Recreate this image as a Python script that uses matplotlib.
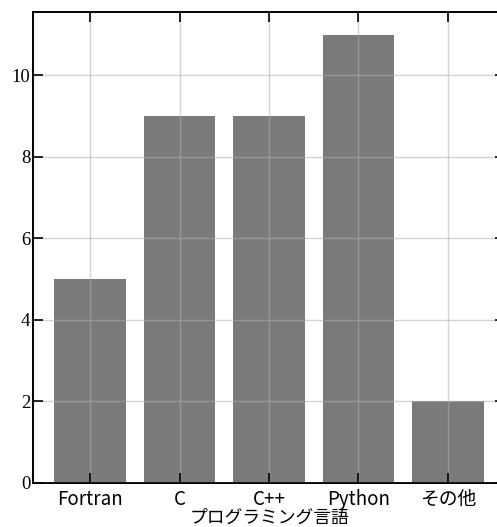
import matplotlib
matplotlib.use('Agg')
import matplotlib.pyplot as plt

# data
languages = ['Fortran', 'C', 'C++', 'Python', 'その他']
counts = [5, 9, 9, 11, 2]
y_ticks = [0, 2, 4, 6, 8, 10]

plt.rcParams['font.family'] = ['Noto Sans CJK JP', 'DejaVu Sans']

fig = plt.figure(figsize=(4.97, 5.27), dpi=100)
ax = fig.add_axes([0.0664, 0.0835, 0.950, 0.8935])

ax.bar(languages, counts, width=0.8, color='#7a7a7a')

# serif numbers on the y axis
ax.set_yticks(y_ticks, [str(t) for t in y_ticks],
              fontfamily=['Liberation Serif', 'DejaVu Serif'], fontsize=13.5)

ax.grid(True, color='#b0b0b0', alpha=0.55, linewidth=1.0)
ax.set_axisbelow(False)

ax.tick_params(direction='in', top=True, right=True, length=7, width=1.2)
ax.tick_params(axis='x', labelsize=13.5, pad=4)
ax.tick_params(axis='y', pad=2)

for s in ax.spines.values():
    s.set_linewidth(1.4)

ax.set_xlabel('プログラミング言語', fontsize=12.8, labelpad=-0.5)

plt.savefig('out.png', dpi=100)
